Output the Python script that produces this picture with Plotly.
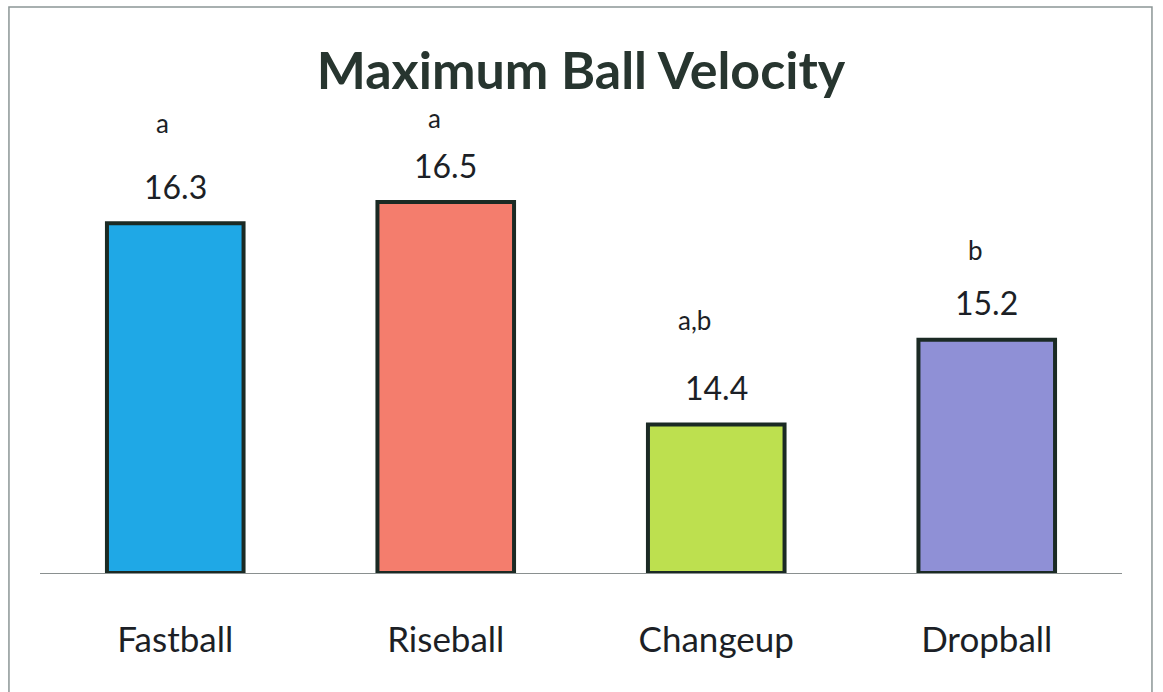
import plotly.graph_objects as go

# Pitch types and their maximum ball velocity
pitches = ["Fastball", "Riseball", "Changeup", "Dropball"]
max_velocity = [16.3, 16.5, 14.4, 15.2]
group_letters = ["a", "a", "a,b", "b"]
bar_colors = ["#1fa8e6", "#f47d6d", "#bde04f", "#8f90d6"]

# pixel offsets of the significance letters relative to each bar top
letter_dy = [100, 84, 105, 90]
letter_dx = [-13, -11, -22, -11]

axis_floor = 13.0
axis_top = 17.0

FONT = "Lato, Carlito, Calibri, sans-serif"
TEXT = "#1c1f26"

fig = go.Figure()
fig.add_trace(go.Bar(
    x=pitches,
    y=[v - axis_floor for v in max_velocity],
    base=axis_floor,
    marker=dict(color=bar_colors, line=dict(color="#1b2a24", width=4)),
    width=0.505,
    hoverinfo="skip",
))

# value labels and significance letters above each bar
for name, val, letter, dy, dx in zip(pitches, max_velocity, group_letters,
                                     letter_dy, letter_dx):
    fig.add_annotation(x=name, y=val, text=f"{val:.1f}", showarrow=False,
                       yanchor="middle", yshift=37,
                       font=dict(family=FONT, size=32, color=TEXT))
    fig.add_annotation(x=name, y=val, text=letter, showarrow=False,
                       yanchor="middle", yshift=dy, xshift=dx,
                       font=dict(family=FONT, size=26, color=TEXT))

# outer chart frame
fig.add_shape(type="rect", xref="paper", yref="paper",
              x0=-0.0287, x1=1.0277, y0=-0.33, y1=1.335,
              line=dict(color="#8c9696", width=1.5), fillcolor="rgba(0,0,0,0)",
              layer="below")

fig.update_layout(
    width=1163, height=692,
    margin=dict(l=40, r=41, t=149, b=119),
    paper_bgcolor="white", plot_bgcolor="white",
    showlegend=False,
    title=dict(text="<b>Maximum Ball Velocity</b>", x=0.5, xref="paper",
               y=1 - 71 / 692, yanchor="middle", xanchor="center",
               font=dict(family=FONT, size=52, color="#27352f")),
    xaxis=dict(showline=True, linecolor="#8a9090", linewidth=1,
               ticks="", showgrid=False, ticklabelstandoff=36,
               tickfont=dict(family=FONT, size=35, color=TEXT)),
    yaxis=dict(range=[axis_floor, axis_top], showgrid=False, zeroline=False,
               showticklabels=False, showline=False, ticks=""),
)

fig.write_html("out.html")
